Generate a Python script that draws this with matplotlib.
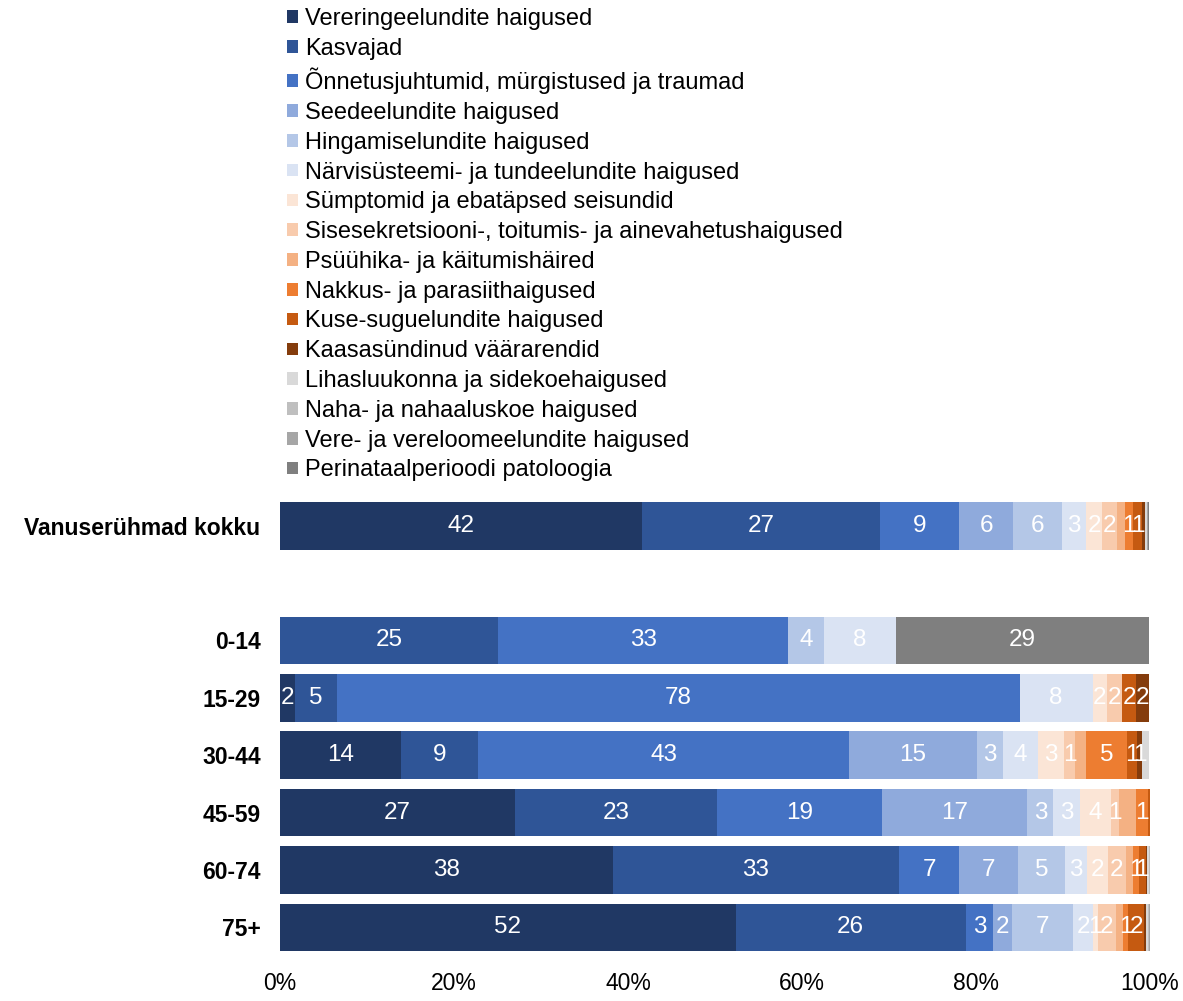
import matplotlib
matplotlib.use('Agg')
import matplotlib.pyplot as plt
from matplotlib.patches import Patch
import numpy as np

plt.rcParams['font.family'] = ['Liberation Sans', 'DejaVu Sans']

# rows, top to bottom (None = empty gap row)
groups = ['Vanuserühmad kokku', None, '0-14', '15-29', '30-44', '45-59', '60-74', '75+']

causes = [
    'Vereringeelundite haigused',
    'Kasvajad',
    'Õnnetusjuhtumid, mürgistused ja traumad',
    'Seedeelundite haigused',
    'Hingamiselundite haigused',
    'Närvisüsteemi- ja tundeelundite haigused',
    'Sümptomid ja ebatäpsed seisundid',
    'Sisesekretsiooni-, toitumis- ja ainevahetushaigused',
    'Psüühika- ja käitumishäired',
    'Nakkus- ja parasiithaigused',
    'Kuse-suguelundite haigused',
    'Kaasasündinud väärarendid',
    'Lihasluukonna ja sidekoehaigused',
    'Naha- ja nahaaluskoe haigused',
    'Vere- ja vereloomeelundite haigused',
    'Perinataalperioodi patoloogia',
]

colors = ['#203864', '#2F5597', '#4472C4', '#8FAADC', '#B4C7E7', '#DAE3F3',
          '#FBE5D6', '#F8CBAD', '#F4B183', '#ED7D31', '#C55A11', '#843C0C',
          '#D9D9D9', '#BFBFBF', '#A6A6A6', '#7F7F7F']

# series that carry data labels in the original
labelled = [True, True, True, True, True, True, True, True, False, True, True,
            True, False, False, False, True]

# share (%) per cause, order of `groups` (gap row excluded)
# kokku, 0-14, 15-29, 30-44, 45-59, 60-74, 75+
vereringe    = [41.6, 0.0,  1.7, 13.9, 27.0, 38.3, 52.4]
kasvajad     = [27.4, 25.1, 4.9,  8.9, 23.2, 32.8, 26.4]
onnetus      = [9.1,  33.3, 78.4, 42.6, 19.0, 7.0,  3.2]
seede        = [6.2,  0.0,  0.0, 14.7, 16.7, 6.7,  2.1]
hingamis     = [5.6,  4.1,  0.0,  3.0,  3.0, 5.4,  7.1]
narvi        = [2.8,  8.3,  8.4,  4.0,  3.0, 2.6,  2.2]
symptomid    = [1.8,  0.0,  1.7,  3.0,  3.6, 2.4,  0.6]
sisesekr     = [1.7,  0.0,  1.7,  1.3,  0.9, 2.0,  2.1]
psyyhika     = [0.9,  0.0,  0.0,  1.3,  2.0, 0.9,  0.8]
nakkus       = [1.0,  0.0,  0.0,  4.7,  1.4, 0.6,  0.6]
kuse         = [1.0,  0.0,  1.6,  1.1,  0.2, 0.8,  1.8]
kaasasyndinud = [0.3, 0.0,  1.5,  0.6,  0.0, 0.2,  0.2]
lihas        = [0.2,  0.0,  0.0,  0.8,  0.1, 0.2,  0.3]
naha         = [0.1,  0.0,  0.0,  0.0,  0.0, 0.1,  0.1]
vere         = [0.1,  0.0,  0.0,  0.0,  0.0, 0.1,  0.2]
perinataal   = [0.1,  29.1, 0.0,  0.0,  0.0, 0.0,  0.0]

series = [vereringe, kasvajad, onnetus, seede, hingamis, narvi, symptomid,
          sisesekr, psyyhika, nakkus, kuse, kaasasyndinud, lihas, naha, vere,
          perinataal]

ypos = np.array([i for i, g in enumerate(groups) if g is not None])
ylabels = [g for g in groups if g is not None]

fig = plt.figure(figsize=(11.83, 10.01), dpi=100)
ax = fig.add_axes([280 / 1183, 1 - 959 / 1001, 870 / 1183, 462 / 1001])

left = np.zeros(len(ypos))
for vals, col, name, lab in zip(series, colors, causes, labelled):
    vals = np.array(vals)
    bars = ax.barh(ypos, vals, left=left, height=0.83, color=col, label=name)
    if lab:
        texts = [str(int(round(v))) if round(v) >= 1 else '' for v in vals]
        ax.bar_label(bars, labels=texts, label_type='center', color='white',
                     fontsize=17.5)
    left += vals

ax.set_xlim(0, 100)
ax.set_ylim(7.55, -0.5)
ax.set_yticks(ypos)
ax.set_yticklabels(ylabels, fontsize=16.5, fontweight='bold')
ax.set_xticks(range(0, 101, 20))
ax.set_xticklabels([f'{t}%' for t in range(0, 101, 20)], fontsize=16.5)
ax.tick_params(axis='both', length=0)
ax.tick_params(axis='y', pad=14)
ax.tick_params(axis='x', pad=9)
for s in ax.spines.values():
    s.set_visible(False)

handles = [Patch(facecolor=c) for c in colors]
fig.legend(handles, causes, loc='upper left',
           bbox_to_anchor=(287 / 1183, 1 - 8 / 1001), frameon=False,
           fontsize=17, handlelength=0.45, handleheight=0.45,
           handletextpad=0.3, labelspacing=0.33, borderpad=0,
           borderaxespad=0)

plt.savefig('out.png', dpi=100)
